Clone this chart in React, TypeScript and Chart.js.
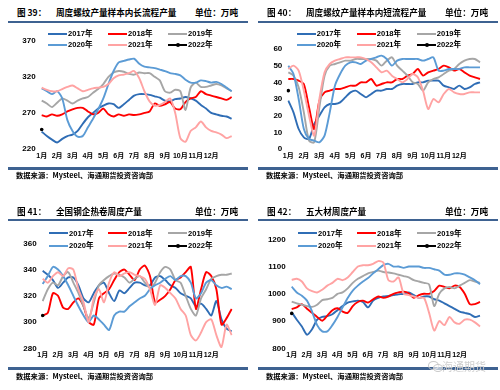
import React, { useEffect, useRef } from 'react';
import { Chart, registerables } from 'chart.js';

Chart.register(...registerables);

// ---------- categories / tick labels ----------
const months = ['1月', '2月', '3月', '4月', '5月', '6月', '7月', '8月', '9月', '10月', '11月', '12月'];
const PER_MONTH = 3; // samples per month
const N_POINTS = 38;
const xLabels: string[] = Array.from({ length: N_POINTS }, (_, i) =>
  i % PER_MONTH === 0 && i / PER_MONTH < months.length ? months[i / PER_MONTH] : ''
);

const years = ['2017年', '2018年', '2019年', '2020年', '2021年', '2022年'];
const colors = ['#2F6DB5', '#FF0000', '#A6A6A6', '#5B9BD5', '#FFA3A3', '#000000'];

// ---------- 图39 长流程 ----------
const long2017 = [244,238,233, 229,234,238, 240,245,255, 264,270,276, 280,283,282, 277,282,288, 294,296,296, 295,293,291, 287,286,289, 290,292,290, 287,281,276, 270,268,266, 265,262];
const long2018 = [267,265,268, 266,268,272, 275,277,277, 272,268,270, 276,268,265, 268,266,268, 267,268,270, 272,283,280, 282,285,276, 275,285,290, 292,300,296, 294,292,290, 288,292];
const long2019 = [287,283,278, 284,290,287, 283,287,290, 292,298,303, 310,320,326, 328,327,324, 323,326,325, 325,320,315, 300,298,302, 300,274,305, 312,306,306, 308,310,308, 304,300];
const long2020 = [304,300,296, 300,290,260, 245,237,238, 250,262,275, 290,310,328, 340,342,344, 345,338,334, 333,332,330, 328,325,324, 322,316,312, 312,315,314, 312,313,310, 305,300];
const long2021 = [305,302,300, 300,303,306, 308,304,300, 302,304,305, 306,310,318, 322,323,325, 328,318,300, 286,280,281, 285,290,270, 235,230,245, 250,258,250, 245,243,240, 235,238];
const long2022 = [247];

// ---------- 图40 短流程 ----------
const short2017 = [29,22,12, 7,6,15, 20,25,27, 27,28,31, 34,35,33, 31,33,35, 35,36,36, 38,39,39, 39,40,40, 41,41,41, 38,37,36, 38,36,37, 39,40];
const short2018 = [42,42,41, 39,25,12, 29,34,35, 36,36,37, 38,38,40, 40,42,38, 39,40,40, 42,42,44, 45,48,44, 46,47,48, 50,49,47, 48,46,44, 43,42];
const short2019 = [46,44,37, 22,5,4, 25,44,50, 51,52,53, 53,54,54, 54,54,53, 50,53,55, 50,47,44, 40,39,35, 40,42,43, 45,47,48, 51,53,54, 54,52];
const short2020 = [50,45,30, 12,6,5, 4,8,22, 38,45,50, 52,52,51, 53,54,55, 56,54,50, 53,54,54, 54,54,53, 54,55,47, 47,48,48, 48,49,49, 49,49];
const short2021 = [48,50,47, 35,20,8, 30,46,51, 53,54,55, 55,55,55, 54,52,49, 46,47,44, 42,40,42, 45,43,35, 24,30,28, 33,36,34, 33,33,34, 34,34];
const short2022 = [35];

// ---------- 图41 热卷 ----------
const hrc2017 = [339,336,332, 326,330,334, 334,328,318, 315,322,328, 330,322,316, 324,322,326, 330,330,328, 328,334,335, 332,328,326, 322,320,318, 312,314,310, 305,316,302, 295,293];
const hrc2018 = [305,307,322, 320,311,310, 315,318,312, 300,298,318, 322,325,332, 338,340,336, 332,340,343, 335,315,317, 320,325,332, 334,338,342, 310,325,338, 335,325,298, 303,310];
const hrc2019 = [316,325,330, 328,335,338, 330,322,312, 303,315,328, 332,335,337, 336,334,330, 333,335,330, 326,330,338, 342,340,332, 330,320,310, 305,318,325, 333,335,336, 336,337];
const hrc2020 = [329,335,342, 340,335,328, 320,312,305, 300,305,302, 298,294,305, 308,308,312, 315,318,320, 325,328,330, 333,335,332, 335,335,330, 318,322,330, 332,328,326, 327,325];
const hrc2021 = [333,330,335, 338,335,341, 340,325,315, 300,318,325, 315,330,338, 335,337,338, 336,335,333, 325,313,328, 326,322,318, 310,305,290, 286,292,300, 302,290,281, 298,290];
const hrc2022 = [305];

// ---------- 图42 五大材 ----------
const five2017 = [932,905,880, 850,870,905, 915,918,925, 940,955,968, 972,975,970, 950,975,985, 990,992,995, 998,1000,1005, 995,985,990, 990,980,975, 965,955,945, 935,930,925, 915,920];
const five2018 = [944,950,962, 945,930,915, 901,920,940, 947,935,930, 955,970,975, 968,980,990, 985,990,1000, 1005,1008,1002, 985,995,1000, 1000,1010,1030, 1025,1020,1030, 1025,1000,962, 962,970];
const five2019 = [971,965,960, 955,952,960, 977,980,985, 1000,1005,1020, 1040,1055,1065, 1075,1080,1085, 1080,1078,1075, 1070,1065,1060, 1050,1045,1040, 1035,955,1000, 1020,1025,1020, 1030,1040,1050, 1045,1040];
const five2020 = [1026,1005,993, 975,935,885, 862,862,885, 915,950,985, 1012,1030,1045, 1058,1075,1090, 1105,1110,1100, 1100,1095,1100, 1100,1100,1095, 1095,1090,1085, 1070,1070,1075, 1075,1070,1060, 1050,1035];
const five2021 = [1051,1055,1045, 1020,1010,1005, 1015,1030,1040, 1055,1050,1060, 1080,1100,1105, 1105,1110,1120, 1115,1050,1045, 1060,1000,995, 990,985,985, 930,865,900, 885,915,895, 890,905,905, 895,880];
const five2022 = [928];

const PANEL_W = 250;
const PANEL_H = 195;
const FRAME = '#3E6291';
const CJK = '"Noto Sans CJK SC", "Liberation Sans", sans-serif';
const LAT = '"Liberation Sans", Arial, "Noto Sans CJK SC", sans-serif';

type Cfg = {
  x0: number; y0: number;
  fig: string; name: string; unit: string;
  titleY: number; topLineY: number; bottomLineY: number; sourceY: number;
  legendY: number[]; legendX: number[];
  plot: { l: number; r: number; t: number; b: number };
  yMin: number; yMax: number; yStep: number;
  series: number[][];
  watermark?: boolean;
};

const panels: Cfg[] = [
  {
    x0: 0, y0: 0, fig: '图 39：', name: '周度螺纹产量样本内长流程产量', unit: '单位：万吨',
    titleY: 12, topLineY: 22, bottomLineY: 168, sourceY: 176,
    legendY: [33.7, 45], legendX: [48, 108, 168],
    plot: { l: 41.7, r: 231.7, t: 40.7, b: 149 },
    yMin: 220, yMax: 370, yStep: 50,
    series: [long2017, long2018, long2019, long2020, long2021, long2022],
  },
  {
    x0: 250, y0: 0, fig: '图 40：', name: '周度螺纹产量样本内短流程产量', unit: '单位：万吨',
    titleY: 12, topLineY: 22, bottomLineY: 168, sourceY: 176,
    legendY: [33.7, 45], legendX: [46.7, 106.7, 166.7],
    plot: { l: 38.3, r: 230, t: 49, b: 149 },
    yMin: 0, yMax: 60, yStep: 10,
    series: [short2017, short2018, short2019, short2020, short2021, short2022],
  },
  {
    x0: 0, y0: 195, fig: '图 41：', name: '全国钢企热卷周度产量', unit: '单位：万吨',
    titleY: 16, topLineY: 25, bottomLineY: 173, sourceY: 182,
    legendY: [38.3, 50.7], legendX: [49, 108, 168],
    plot: { l: 42.7, r: 231.7, t: 48.3, b: 153.3 },
    yMin: 280, yMax: 360, yStep: 20,
    series: [hrc2017, hrc2018, hrc2019, hrc2020, hrc2021, hrc2022],
  },
  {
    x0: 250, y0: 195, fig: '图 42：', name: '五大材周度产量', unit: '单位：万吨',
    titleY: 16, topLineY: 25, bottomLineY: 173, sourceY: 182,
    legendY: [38.3, 50.7], legendX: [48, 107, 167],
    plot: { l: 41.7, r: 230, t: 44.3, b: 153.3 },
    yMin: 800, yMax: 1200, yStep: 100,
    series: [five2017, five2018, five2019, five2020, five2021, five2022],
    watermark: true,
  },
];

function Panel({ cfg }: { cfg: Cfg }) {
  const ref = useRef<HTMLCanvasElement>(null);

  useEffect(() => {
    if (!ref.current) return;
    const chart = new Chart(ref.current, {
      type: 'line',
      data: {
        labels: xLabels,
        datasets: cfg.series.map((d, k) => ({
          label: years[k],
          data: d,
          borderColor: colors[k],
          backgroundColor: colors[k],
          borderWidth: k === 5 ? 1.5 : 1.9,
          pointRadius: k === 5 ? 1.8 : 0,
          pointHoverRadius: 0,
          pointBorderWidth: 0,
          tension: 0.25,
          fill: false,
          order: 5 - k,
        })),
      },
      options: {
        animation: false,
        responsive: false,
        maintainAspectRatio: false,
        events: [],
        layout: {
          autoPadding: false,
          padding: { left: 0, top: cfg.plot.t, right: PANEL_W - cfg.plot.r, bottom: 0 },
        },
        plugins: {
          legend: { display: false },
          tooltip: { enabled: false },
          title: { display: false },
        },
        scales: {
          x: {
            type: 'category',
            offset: false,
            grid: { display: false, drawTicks: false },
            border: { display: false },
            ticks: {
              autoSkip: false,
              maxRotation: 0,
              minRotation: 0,
              padding: 3,
              color: '#000',
              font: { family: LAT, size: 7, weight: 'bold' },
              callback: (_v: any, i: number) => xLabels[i],
            },
            afterFit: (s: any) => { s.height = PANEL_H - cfg.plot.b; },
          },
          y: {
            min: cfg.yMin,
            max: cfg.yMax,
            grid: { display: false, drawTicks: false },
            border: { display: false },
            ticks: {
              stepSize: cfg.yStep,
              padding: 6,
              color: '#000',
              font: { family: LAT, size: 8, weight: 'bold' },
              callback: (v: any) => String(v),
            },
            afterFit: (s: any) => { s.width = cfg.plot.l; },
          },
        },
      } as any,
    });
    return () => chart.destroy();
  }, [cfg]);

  const textAt = (y: number, size: number): React.CSSProperties => ({
    position: 'absolute',
    top: y - size / 2 - 1,
    height: size + 2,
    lineHeight: `${size + 2}px`,
    fontSize: size,
    whiteSpace: 'nowrap',
    color: '#000',
  });

  return (
    <div style={{ position: 'absolute', left: cfg.x0, top: cfg.y0, width: PANEL_W, height: PANEL_H, overflow: 'hidden' }}>
      <div style={{ ...textAt(cfg.titleY, 8.6), left: 17, fontFamily: CJK, fontWeight: 700 }}>{cfg.fig}</div>
      <div style={{ ...textAt(cfg.titleY, 8.6), left: 56, fontFamily: CJK, fontWeight: 700 }}>{cfg.name}</div>
      <div style={{ ...textAt(cfg.titleY, 8.6), right: 12, fontFamily: CJK, fontWeight: 700 }}>{cfg.unit}</div>
      <div style={{ position: 'absolute', left: 8, width: 240, top: cfg.topLineY - 1, height: 2, background: FRAME }} />

      <canvas ref={ref} width={PANEL_W} height={PANEL_H}
        style={{ position: 'absolute', left: 0, top: 0, width: PANEL_W, height: PANEL_H, display: 'block' }} />

      {years.map((y, k) => {
        const row = Math.floor(k / 3);
        const col = k % 3;
        const lx = cfg.legendX[col];
        const ly = cfg.legendY[row];
        return (
          <React.Fragment key={y}>
            <div style={{ position: 'absolute', left: lx, top: ly - 1, width: 19, height: 2, background: colors[k] }} />
            {k === 5 && (
              <div style={{ position: 'absolute', left: lx + 8, top: ly - 2, width: 4, height: 4, borderRadius: 2, background: '#000' }} />
            )}
            <div style={{ ...textAt(ly, 7.6), left: lx + 20, fontFamily: LAT, fontWeight: 700 }}>{y}</div>
          </React.Fragment>
        );
      })}

      <div style={{ position: 'absolute', left: 8, width: 240, top: cfg.bottomLineY - 1.5, height: 3, background: FRAME }} />
      <div style={{ ...textAt(cfg.sourceY, 7.3), left: 16, fontFamily: CJK, fontWeight: 700 }}>数据来源：Mysteel、海通期货投资咨询部</div>

      {cfg.watermark && (
        <>
          <div style={{ position: 'absolute', left: 178, top: 166, width: 9, height: 7, border: '1px solid #c9c9c9', borderRadius: '50%' }} />
          <div style={{ position: 'absolute', left: 183, top: 169, width: 8, height: 6, border: '1px solid #c9c9c9', borderRadius: '50%', background: 'rgba(255,255,255,0.6)' }} />
          <div style={{ ...textAt(171, 11), left: 192, fontFamily: CJK, color: '#cfcfcf' }}>海通期货</div>
        </>
      )}
    </div>
  );
}

export default function App() {
  return (
    <div style={{ position: 'absolute', left: 0, top: 0, width: 500, height: 390, background: '#fff', overflow: 'hidden' }}>
      {panels.map((p) => <Panel key={p.fig} cfg={p} />)}
    </div>
  );
}
